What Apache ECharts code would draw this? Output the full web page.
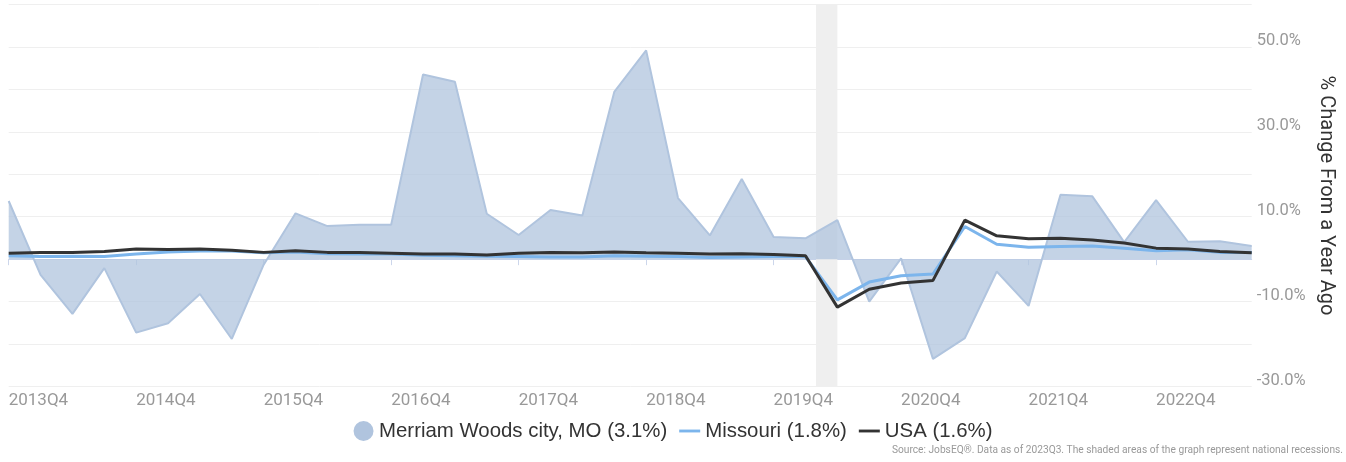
<!DOCTYPE html>
<html>
<head>
<meta charset="utf-8">
<script src="https://cdn.jsdelivr.net/npm/echarts@6/dist/echarts.min.js"></script>
<style>
    html,body{margin:0;padding:0;background:#fff;}
    #chart{width:1346px;height:462px;}
</style>
</head>
<body>
<div id="chart"></div>
<script>
// 季度
const quarters = ['2013Q4',
    '2014Q1','2014Q2','2014Q3','2014Q4',
    '2015Q1','2015Q2','2015Q3','2015Q4',
    '2016Q1','2016Q2','2016Q3','2016Q4',
    '2017Q1','2017Q2','2017Q3','2017Q4',
    '2018Q1','2018Q2','2018Q3','2018Q4',
    '2019Q1','2019Q2','2019Q3','2019Q4',
    '2020Q1','2020Q2','2020Q3','2020Q4',
    '2021Q1','2021Q2','2021Q3','2021Q4',
    '2022Q1','2022Q2','2022Q3','2022Q4',
    '2023Q1','2023Q2','2023Q3'];

// % change from a year ago
const merriam = [13.7, -3.7, -12.9, -2.1, -17.3, -15.1, -8.2, -18.8, -1.3, 10.8,
    7.8, 8.1, 8.1, 43.5, 41.8, 10.7, 5.7, 11.6, 10.3, 39.4,
    49.2, 14.4, 5.6, 18.9, 5.2, 4.9, 9.2, -10.0, 0.2, -23.5,
    -18.6, -2.9, -11.0, 15.2, 14.8, 4.0, 13.9, 4.1, 4.2, 3.1];
const missouri = [0.8, 0.6, 0.7, 0.6, 1.2, 1.7, 1.9, 1.9, 1.5, 1.7,
    1.3, 1.2, 1.2, 0.9, 0.8, 0.7, 0.6, 0.5, 0.5, 0.8,
    0.7, 0.6, 0.4, 0.5, 0.6, 0.6, -9.6, -5.4, -3.9, -3.5,
    7.7, 3.5, 2.8, 3.0, 3.1, 2.6, 2.0, 2.2, 1.6, 1.6];
const usa = [1.4, 1.6, 1.6, 1.8, 2.4, 2.3, 2.4, 2.1, 1.6, 2.0,
    1.6, 1.6, 1.4, 1.2, 1.2, 1.0, 1.4, 1.6, 1.5, 1.7,
    1.5, 1.4, 1.2, 1.3, 1.1, 0.8, -11.3, -7.1, -5.6, -5.0,
    9.2, 5.5, 4.8, 4.9, 4.5, 3.8, 2.6, 2.4, 1.8, 1.5];

// 衰退区间 (按季度序号)
const recession = [25.33, 26];

const legendNames = ['Merriam Woods city, MO (3.1%)', 'Missouri (1.8%)', 'USA (1.6%)'];

// 图例里的细线图标 (外框 22x20, 中间画一条线)
const lineIcon = 'path://M0,0M22,20M0,8.5H22V11.5H0Z';

let myChart = echarts.init(document.getElementById('chart'));
myChart.setOption({
    animation: false,
    textStyle: { fontFamily: 'Roboto' },
    grid: { left: 8.7, right: 94.3, top: 4.5, bottom: 75.5, outerBoundsMode: 'none' },
    legend: {
        data: [
            { name: legendNames[0], icon: 'circle' },
            { name: legendNames[1], icon: lineIcon },
            { name: legendNames[2], icon: lineIcon }
        ],
        left: 'center',
        top: 416,
        itemWidth: 21,
        itemHeight: 20,
        itemGap: 12,
        selectedMode: false,
        textStyle: { fontSize: 20.4, color: '#333', fontFamily: 'Liberation Sans' }
    },
    graphic: {
        type: 'text',
        right: 3,
        top: 445,
        style: {
            text: 'Source: JobsEQ®. Data as of 2023Q3. The shaded areas of the graph represent national recessions.',
            fill: '#999',
            fontSize: 10.2,
            fontFamily: 'Roboto'
        }
    },
    xAxis: [
        {
            type: 'category',
            data: quarters,
            boundaryGap: false,
            axisLine: { lineStyle: { color: '#ccd6eb' } },
            axisTick: { interval: 3, length: 6, lineStyle: { color: '#ccd6eb' } },
            axisLabel: {
                interval: 3,
                align: 'left',
                margin: 6,
                color: '#999',
                fontSize: 17
            },
            splitLine: { show: false }
        },
        {
            type: 'value',
            min: 0,
            max: quarters.length - 1,
            show: false
        }
    ],
    yAxis: {
        type: 'value',
        position: 'right',
        min: -30,
        max: 60,
        interval: 10,
        name: '% Change From a Year Ago',
        nameLocation: 'middle',
        nameRotate: -90,
        nameGap: 60,
        nameTextStyle: { fontSize: 20, color: '#333' },
        axisLine: { show: false },
        axisTick: { show: false },
        axisLabel: {
            margin: 5,
            color: '#999',
            fontSize: 16.5,
            verticalAlign: 'bottom',
            lineHeight: 12,
            formatter: function (v) {
                return (v + 30) % 20 === 0 && v < 60 ? v.toFixed(1) + '%' : '';
            }
        },
        splitLine: { lineStyle: { color: '#efefef', width: 1 } }
    },
    series: [
        {
            // 衰退阴影
            type: 'line',
            xAxisIndex: 1,
            data: [],
            silent: true,
            markArea: {
                silent: true,
                itemStyle: { color: '#efefef' },
                data: [[{ xAxis: recession[0] }, { xAxis: recession[1] }]]
            }
        },
        {
            name: legendNames[0],
            type: 'line',
            data: merriam,
            symbol: 'none',
            color: '#b0c4de',
            lineStyle: { width: 2, color: '#b0c4de' },
            areaStyle: { color: '#b0c4de', opacity: 0.75 }
        },
        {
            name: legendNames[1],
            type: 'line',
            data: missouri,
            symbol: 'none',
            color: '#7cb5ec',
            lineStyle: { width: 3, color: '#7cb5ec' }
        },
        {
            name: legendNames[2],
            type: 'line',
            data: usa,
            symbol: 'none',
            color: '#333333',
            lineStyle: { width: 3, color: '#333333' }
        }
    ]
});
</script>
</body>
</html>
